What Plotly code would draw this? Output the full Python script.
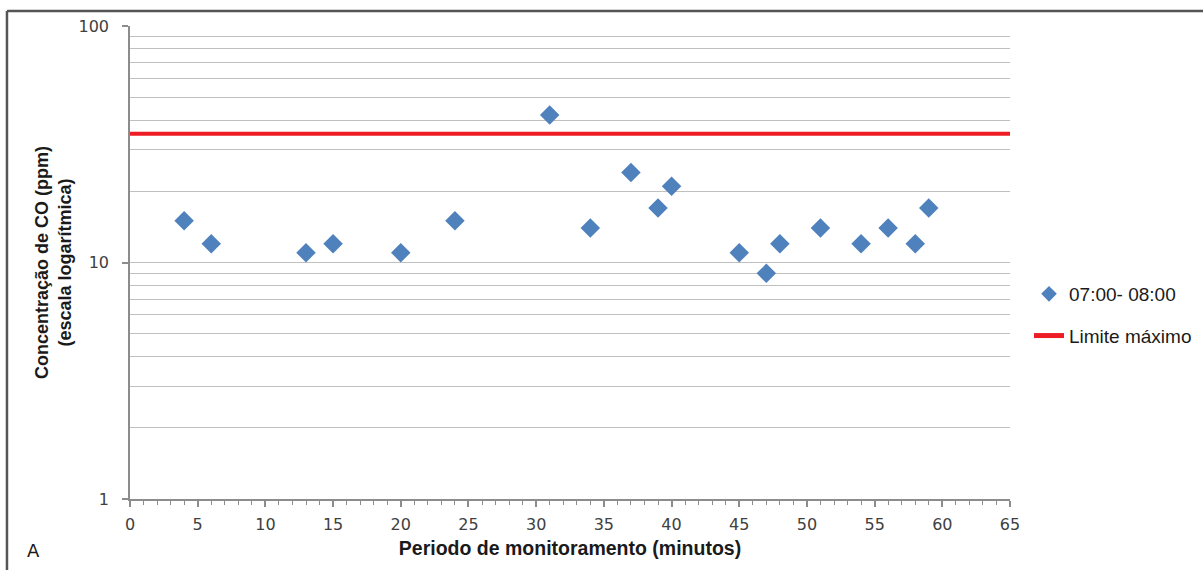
import plotly.graph_objects as go

# Monitoring minutes and CO concentration readings (ppm)
minutos = [4, 6, 13, 15, 20, 24, 31, 34, 37, 39, 40, 45, 47, 48, 51, 54, 56, 58, 59]
co_ppm = [15, 12, 11, 12, 11, 15, 42, 14, 24, 17, 21, 11, 9, 12, 14, 12, 14, 12, 17]
limite_maximo = 35
serie_nome = "07:00- 08:00"
limite_nome = "Limite máximo"

x_range = [0, 65]
x_ticks = list(range(0, 66, 5))
y_major = [1, 10, 100]
y_minor = [m * 10 ** d for d in range(0, 2) for m in range(2, 10)]

tick_font = dict(family="DejaVu Sans", size=16, color="#404040")
axis_color = "#8c8c8c"
grid_color = "#c0c0c0"

fig = go.Figure()

fig.add_trace(go.Scatter(
    x=minutos, y=co_ppm, mode="markers", name=serie_nome, legendgroup="serie",
    marker=dict(symbol="diamond", size=15, color="#4f81bd", line=dict(width=0)),
))

fig.add_trace(go.Scatter(
    x=x_range, y=[limite_maximo, limite_maximo], mode="lines", name=limite_nome,
    legendgroup="limite",
    line=dict(color="#ee1c25", width=4),
))

fig.update_layout(
    width=1203, height=570,
    margin=dict(l=130, r=193, t=26, b=71, autoexpand=False),
    paper_bgcolor="white", plot_bgcolor="white",
    showlegend=True,
    legend=dict(
        x=1.0216, y=0.389, xanchor="left", yanchor="middle",
        font=dict(family="Liberation Sans", size=19, color="#1a1a1a"),
        traceorder="grouped", tracegroupgap=14, itemwidth=30, itemsizing="constant",
    ),
    xaxis=dict(
        range=x_range, tickvals=x_ticks, showgrid=False, zeroline=False,
        showline=True, linecolor=axis_color, linewidth=1.5,
        ticks="outside", ticklen=6, tickcolor=axis_color, tickwidth=1.5,
        minor=dict(dtick=1, ticks="outside", ticklen=4, tickcolor=axis_color, tickwidth=1),
        tickfont=tick_font, ticklabelstandoff=4,
        title=dict(text="<b>Periodo de monitoramento (minutos)</b>", standoff=8,
                   font=dict(family="Liberation Sans", size=19.5, color="#1a1a1a")),
    ),
    yaxis=dict(
        type="log", range=[0, 2], tickvals=y_major, ticktext=["1", "10", "100"],
        showgrid=True, gridcolor=grid_color, gridwidth=1.2,
        zeroline=False, showline=True, linecolor=axis_color, linewidth=1.5,
        ticks="outside", ticklen=6, tickcolor=axis_color, tickwidth=1.5,
        minor=dict(tickvals=y_minor, showgrid=True, gridcolor=grid_color, gridwidth=1.2, ticks=""),
        tickfont=tick_font, ticklabelstandoff=10,
        title=dict(text="<b>Concentração de CO (ppm)<br>(escala logarítmica)</b>", standoff=2,
                   font=dict(family="Liberation Sans", size=18, color="#1a1a1a")),
    ),
    shapes=[
        dict(type="line", xref="paper", yref="paper", x0=-0.1398, x1=1.22, y0=1.0317, y1=1.0317,
             line=dict(color="#555555", width=2.5)),
        dict(type="line", xref="paper", yref="paper", x0=-0.1398, x1=-0.1398, y0=1.0317, y1=-0.2,
             line=dict(color="#555555", width=2.5)),
    ],
    annotations=[
        dict(text="A", xref="paper", yref="paper", x=-0.119, y=-0.108, xanchor="left", yanchor="middle",
             showarrow=False, font=dict(family="DejaVu Sans", size=18, color="#1a1a1a")),
    ],
)

fig.write_html("out.html")
